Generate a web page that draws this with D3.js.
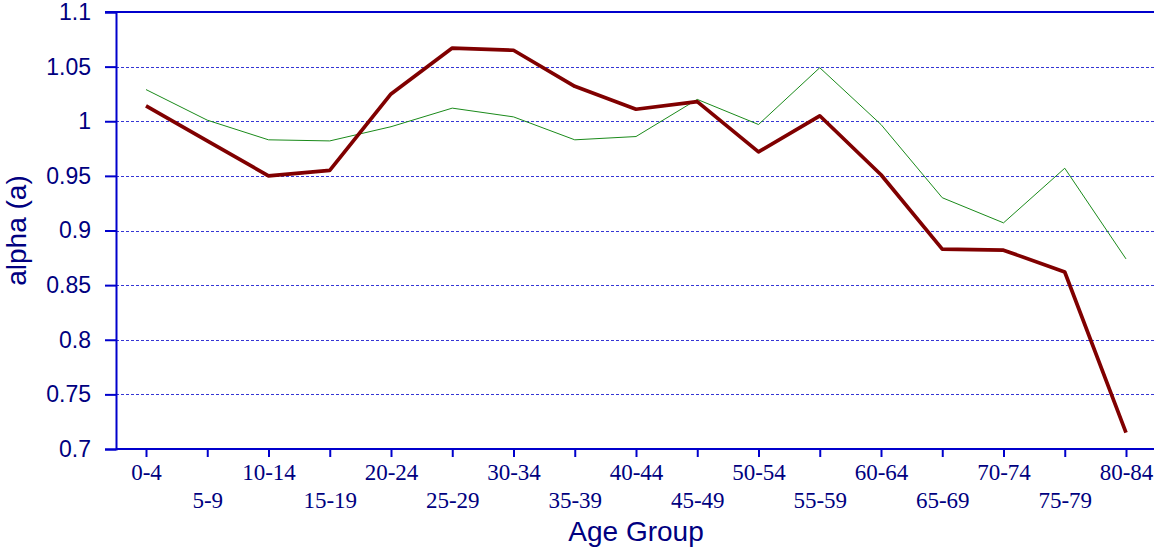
<!DOCTYPE html>
<html>
<head>
<meta charset="utf-8">
<script src="https://cdn.jsdelivr.net/npm/d3@7"></script>
<style>
  body { margin: 0; background: #fff; }
</style>
</head>
<body>
<div id="root"></div>
<script>
const width = 1154
const height = 548

const ageGroups = ['0-4', '5-9', '10-14', '15-19', '20-24', '25-29', '30-34', '35-39', '40-44',
  '45-49', '50-54', '55-59', '60-64', '65-69', '70-74', '75-79', '80-84']
const alphaRed = [1.014, 0.982, 0.950, 0.955, 1.025, 1.067, 1.065, 1.032, 1.011,
  1.018, 0.972, 1.005, 0.951, 0.883, 0.882, 0.862, 0.715]
const alphaGreen = [1.029, 1.001, 0.983, 0.982, 0.995, 1.012, 1.004, 0.983, 0.986,
  1.020, 0.997, 1.049, 0.997, 0.930, 0.907, 0.957, 0.874]
const yTicks = [0.7, 0.75, 0.8, 0.85, 0.9, 0.95, 1, 1.05, 1.1]

const margin = { top: 12, right: 0, bottom: 99, left: 116 }

const svg = d3.select('#root').append('svg')
  .attr('width', width)
  .attr('height', height)

const x = d3.scalePoint()
  .domain(ageGroups)
  .range([146, 1126])

const y = d3.scaleLinear()
  .domain([0.7, 1.1])
  .range([height - margin.bottom, margin.top])

const navy = '#000080'
const blue = '#0000cc'

// dashed grid lines
svg.append('g')
  .selectAll('line')
  .data(yTicks.filter(d => d > 0.7 && d < 1.1))
  .join('line')
  .attr('x1', margin.left)
  .attr('x2', width)
  .attr('y1', d => Math.round(y(d)) + 0.5)
  .attr('y2', d => Math.round(y(d)) + 0.5)
  .attr('stroke', '#3535d5')
  .attr('stroke-width', 1)
  .attr('stroke-dasharray', '3,2')

// top border
svg.append('line')
  .attr('x1', margin.left - 11).attr('x2', width)
  .attr('y1', y(1.1)).attr('y2', y(1.1))
  .attr('stroke', blue).attr('stroke-width', 2)

// y axis
const yAxis = svg.append('g')
  .attr('transform', `translate(${margin.left},0)`)
  .call(d3.axisLeft(y).tickValues(yTicks).tickSize(11).tickPadding(14)
    .tickFormat(d => d3.format('')(+d.toFixed(2))))
yAxis.select('.domain').attr('stroke', blue).attr('stroke-width', 2)
yAxis.selectAll('.tick line').attr('stroke', blue).attr('stroke-width', 2)
yAxis.selectAll('.tick text')
  .attr('fill', navy)
  .style('font-family', '"Liberation Sans", Arial, sans-serif')
  .style('font-size', '23px')

// x axis
const xAxis = svg.append('g')
  .attr('transform', `translate(0,${y(0.7)})`)
  .call(d3.axisBottom(x).tickSize(8).tickSizeOuter(0))
xAxis.select('.domain')
  .attr('d', `M${margin.left},0H${width}`)
  .attr('stroke', blue).attr('stroke-width', 2)
xAxis.selectAll('.tick line').attr('stroke', blue).attr('stroke-width', 2)
xAxis.selectAll('.tick text')
  .attr('fill', navy)
  .attr('y', (d, i) => i % 2 === 0 ? 31 : 59)
  .attr('dy', null)
  .style('font-family', '"Liberation Serif", "Times New Roman", serif')
  .style('font-size', '23px')

const line = d3.line()
  .x((d, i) => x(ageGroups[i]))
  .y(d => y(d))

svg.append('path')
  .attr('d', line(alphaGreen))
  .attr('fill', 'none')
  .attr('stroke', '#1a8a1a')
  .attr('stroke-width', 1)

svg.append('path')
  .attr('d', line(alphaRed))
  .attr('fill', 'none')
  .attr('stroke', '#800000')
  .attr('stroke-width', 3.7)
  .attr('stroke-linejoin', 'round')

// axis titles
svg.append('text')
  .attr('transform', `translate(26,${(y(0.7) + y(1.1)) / 2}) rotate(-90)`)
  .attr('text-anchor', 'middle')
  .attr('fill', navy)
  .style('font-family', '"Liberation Sans", Arial, sans-serif')
  .style('font-size', '28px')
  .text('alpha (a)')

svg.append('text')
  .attr('x', x('40-44'))
  .attr('y', 541)
  .attr('text-anchor', 'middle')
  .attr('fill', navy)
  .style('font-family', '"Liberation Sans", Arial, sans-serif')
  .style('font-size', '28px')
  .text('Age Group')
</script>
</body>
</html>
